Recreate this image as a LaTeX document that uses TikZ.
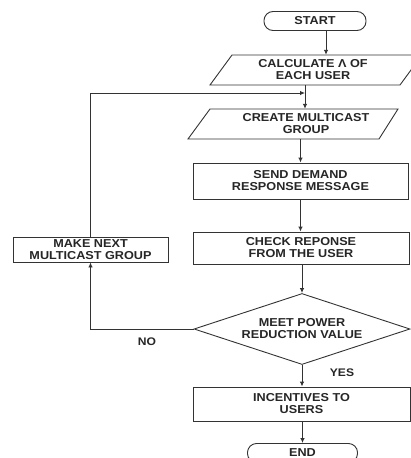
\documentclass[tikz,border=0pt]{standalone}
\usepackage{fontspec}
\setmainfont{Liberation Sans}[FakeStretch=1.1]
\usetikzlibrary{shapes.geometric,arrows.meta}
\begin{document}
\begin{tikzpicture}[x=1pt,y=-1pt,
  every node/.style={font=\fontsize{11.5}{12}\selectfont\bfseries, text=black!85, align=center, inner sep=0pt},
  line/.style={draw=black!80, line width=0.9pt},
  arr/.style={line, -{Latex[length=5pt,width=4.5pt]}},
  procbox/.style={line, rectangle, minimum width=#1},
  term/.style={line, rectangle, rounded corners=9pt, minimum height=19pt, minimum width=#1},
  iobox/.style={rectangle, minimum height=30pt},
  decision/.style={line, diamond, aspect=3.04, minimum width=216pt, minimum height=71pt},
  lbl/.style={font=\fontsize{11}{12}\selectfont\bfseries}]
\useasboundingbox (0,0) rectangle (411,458);
% nodes
\node[term=102pt] (start) at (315,21) {START};
\node[iobox] (calc) at (313,70) {CALCULATE Λ OF\\EACH USER};
\draw[line] (210,85) -- (400,85) -- (422,55) -- (232,55) -- cycle;
\node[iobox] (create) at (306,124) {CREATE MULTICAST\\GROUP};
\draw[line] (188,139) -- (379,139) -- (398,109) -- (210,109) -- cycle;
\node[procbox=215pt, minimum height=36pt] (send) at (300.5,181) {SEND DEMAND\\RESPONSE MESSAGE};
\node[procbox=216pt, minimum height=32pt] (check) at (301,248) {CHECK REPONSE\\FROM THE USER};
\node[decision] (dec) at (302,329) {MEET POWER\\REDUCTION VALUE};
\node[procbox=155pt, minimum height=25pt] (make) at (90.5,249.5) {MAKE NEXT\\MULTICAST GROUP};
\node[procbox=217pt, minimum height=34pt] (incent) at (301.5,404) {INCENTIVES TO\\USERS};
\node[term=110pt] (end) at (302.5,453) {END};
\coordinate (join) at (305,93);
\node[lbl] (no) at (147,342) {NO};
\node[lbl] (yes) at (342,373) {YES};
% connectors
\draw[arr] ([xshift=11pt]start.south) -- ([xshift=11pt]start.south |- calc.north);
\draw[arr] (join |- calc.south) -- (join |- create.north);
\draw[arr] (send.north |- create.south) -- (send.north);
\draw[arr] (send.south) -- (send.south |- check.north);
\draw[arr] (check.south -| dec.north) -- (dec.north);
\draw[arr] (dec.west) -| (make.south);
\draw[arr] (make.north) |- (join);
\draw[arr] (dec.south) -- (dec.south |- incent.north);
\draw[arr] (incent.south -| end.north) -- (end.north);
\end{tikzpicture}
\end{document}
